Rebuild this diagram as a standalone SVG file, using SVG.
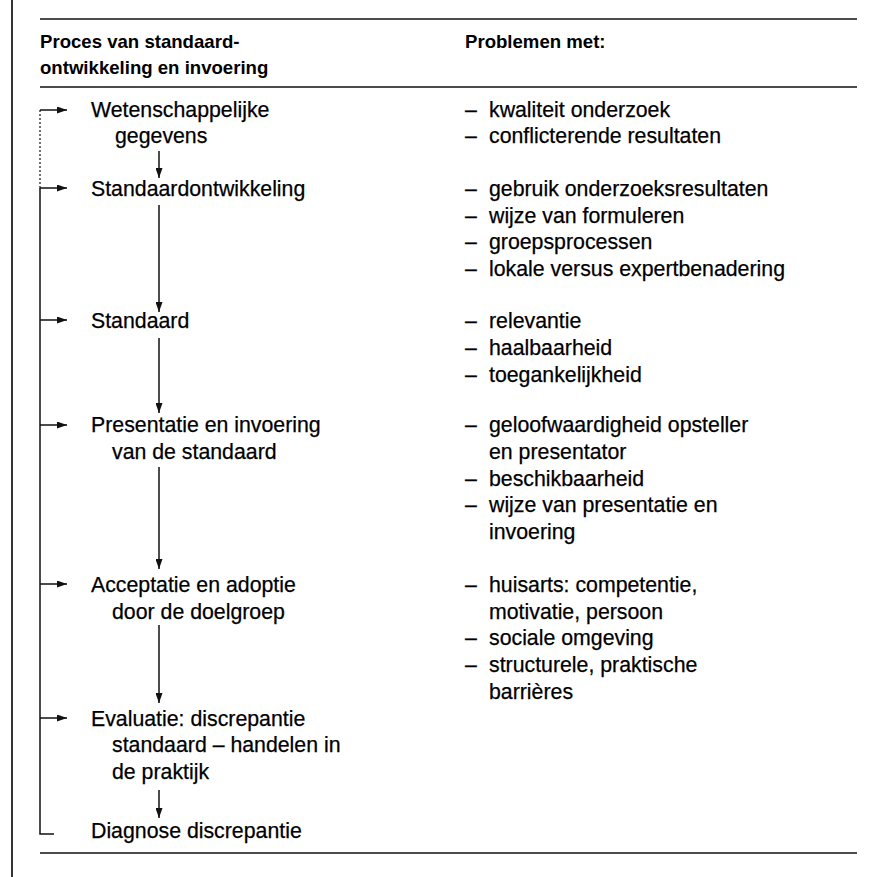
<svg xmlns="http://www.w3.org/2000/svg" width="886" height="877" viewBox="0 0 886 877">
<defs>
<style>
text{font-family:"Liberation Sans",Arial,Helvetica,sans-serif;fill:#000}
.h{font-size:18.6px;font-weight:bold}
.t{font-size:21.3px;stroke:#000;stroke-width:0.25}
.rule{stroke:#111;stroke-width:1.7;fill:none}
.c{stroke:#111;stroke-width:1.5;fill:none}
.dot{stroke:#111;stroke-width:1.2;stroke-dasharray:2 2;fill:none}
</style>
<marker id="ah" markerWidth="10" markerHeight="7" refX="10" refY="3.5" orient="auto" markerUnits="userSpaceOnUse">
<path d="M0,0 L10,3.5 L0,7 z" fill="#111"/>
</marker>
</defs>
<rect width="886" height="877" fill="#fff"/>
<g id="frame">
<line class="rule" x1="12" y1="0" x2="12" y2="877"/>
<line class="rule" x1="40" y1="19" x2="857" y2="19"/>
<line class="rule" x1="40" y1="87" x2="857" y2="87"/>
<line class="rule" x1="40" y1="853" x2="857" y2="853"/>
</g>
<g id="header">
<text class="h" x="40" y="48">Proces van standaard-</text>
<text class="h" x="40" y="74">ontwikkeling en invoering</text>
<text class="h" x="465" y="48">Problemen met:</text>
</g>
<g id="connectors">
<line class="dot" x1="40" y1="110" x2="40" y2="188"/>
<polyline class="c" points="40,188 40,834 54,834"/>
<line class="c" x1="40" y1="110" x2="67" y2="110" marker-end="url(#ah)"/>
<line class="c" x1="40" y1="188" x2="67" y2="188" marker-end="url(#ah)"/>
<line class="c" x1="40" y1="320" x2="67" y2="320" marker-end="url(#ah)"/>
<line class="c" x1="40" y1="425" x2="67" y2="425" marker-end="url(#ah)"/>
<line class="c" x1="40" y1="584" x2="67" y2="584" marker-end="url(#ah)"/>
<line class="c" x1="40" y1="718" x2="67" y2="718" marker-end="url(#ah)"/>
<line class="c" x1="159" y1="151" x2="159" y2="178" marker-end="url(#ah)"/>
<line class="c" x1="159" y1="205" x2="159" y2="312" marker-end="url(#ah)"/>
<line class="c" x1="159" y1="338" x2="159" y2="413" marker-end="url(#ah)"/>
<line class="c" x1="159" y1="467" x2="159" y2="569" marker-end="url(#ah)"/>
<line class="c" x1="159" y1="625" x2="159" y2="703" marker-end="url(#ah)"/>
<line class="c" x1="159" y1="790" x2="159" y2="818" marker-end="url(#ah)"/>
</g>
<g id="node-wetenschappelijke">
<text class="t" x="91" y="116.5">Wetenschappelijke</text>
<text class="t" x="115" y="143">gegevens</text>
</g>
<g id="node-standaardontwikkeling">
<text class="t" x="91" y="196">Standaardontwikkeling</text>
</g>
<g id="node-standaard">
<text class="t" x="91" y="328.3">Standaard</text>
</g>
<g id="node-presentatie">
<text class="t" x="91" y="432.3">Presentatie en invoering</text>
<text class="t" x="112" y="459">van de standaard</text>
</g>
<g id="node-acceptatie">
<text class="t" x="91" y="592">Acceptatie en adoptie</text>
<text class="t" x="112" y="618.7">door de doelgroep</text>
</g>
<g id="node-evaluatie">
<text class="t" x="91" y="725.5">Evaluatie: discrepantie</text>
<text class="t" x="112" y="752">standaard – handelen in</text>
<text class="t" x="112" y="778.7">de praktijk</text>
</g>
<g id="node-diagnose">
<text class="t" x="91" y="838.3">Diagnose discrepantie</text>
</g>
<g id="problems-1">
<text class="t" x="465" y="116.5">–</text><text class="t" x="489" y="116.5">kwaliteit onderzoek</text>
<text class="t" x="465" y="143">–</text><text class="t" x="489" y="143">conflicterende resultaten</text>
</g>
<g id="problems-2">
<text class="t" x="465" y="196">–</text><text class="t" x="489" y="196">gebruik onderzoeksresultaten</text>
<text class="t" x="465" y="222.7">–</text><text class="t" x="489" y="222.7">wijze van formuleren</text>
<text class="t" x="465" y="249.4">–</text><text class="t" x="489" y="249.4">groepsprocessen</text>
<text class="t" x="465" y="276">–</text><text class="t" x="489" y="276">lokale versus expertbenadering</text>
</g>
<g id="problems-3">
<text class="t" x="465" y="328.3">–</text><text class="t" x="489" y="328.3">relevantie</text>
<text class="t" x="465" y="355">–</text><text class="t" x="489" y="355">haalbaarheid</text>
<text class="t" x="465" y="381.7">–</text><text class="t" x="489" y="381.7">toegankelijkheid</text>
</g>
<g id="problems-4">
<text class="t" x="465" y="432.3">–</text><text class="t" x="489" y="432.3">geloofwaardigheid opsteller</text>
<text class="t" x="489" y="459">en presentator</text>
<text class="t" x="465" y="485.6">–</text><text class="t" x="489" y="485.6">beschikbaarheid</text>
<text class="t" x="465" y="512.3">–</text><text class="t" x="489" y="512.3">wijze van presentatie en</text>
<text class="t" x="489" y="539">invoering</text>
</g>
<g id="problems-5">
<text class="t" x="465" y="592">–</text><text class="t" x="489" y="592">huisarts: competentie,</text>
<text class="t" x="489" y="618.7">motivatie, persoon</text>
<text class="t" x="465" y="645.4">–</text><text class="t" x="489" y="645.4">sociale omgeving</text>
<text class="t" x="465" y="672">–</text><text class="t" x="489" y="672">structurele, praktische</text>
<text class="t" x="489" y="698.8">barrières</text>
</g>
</svg>
